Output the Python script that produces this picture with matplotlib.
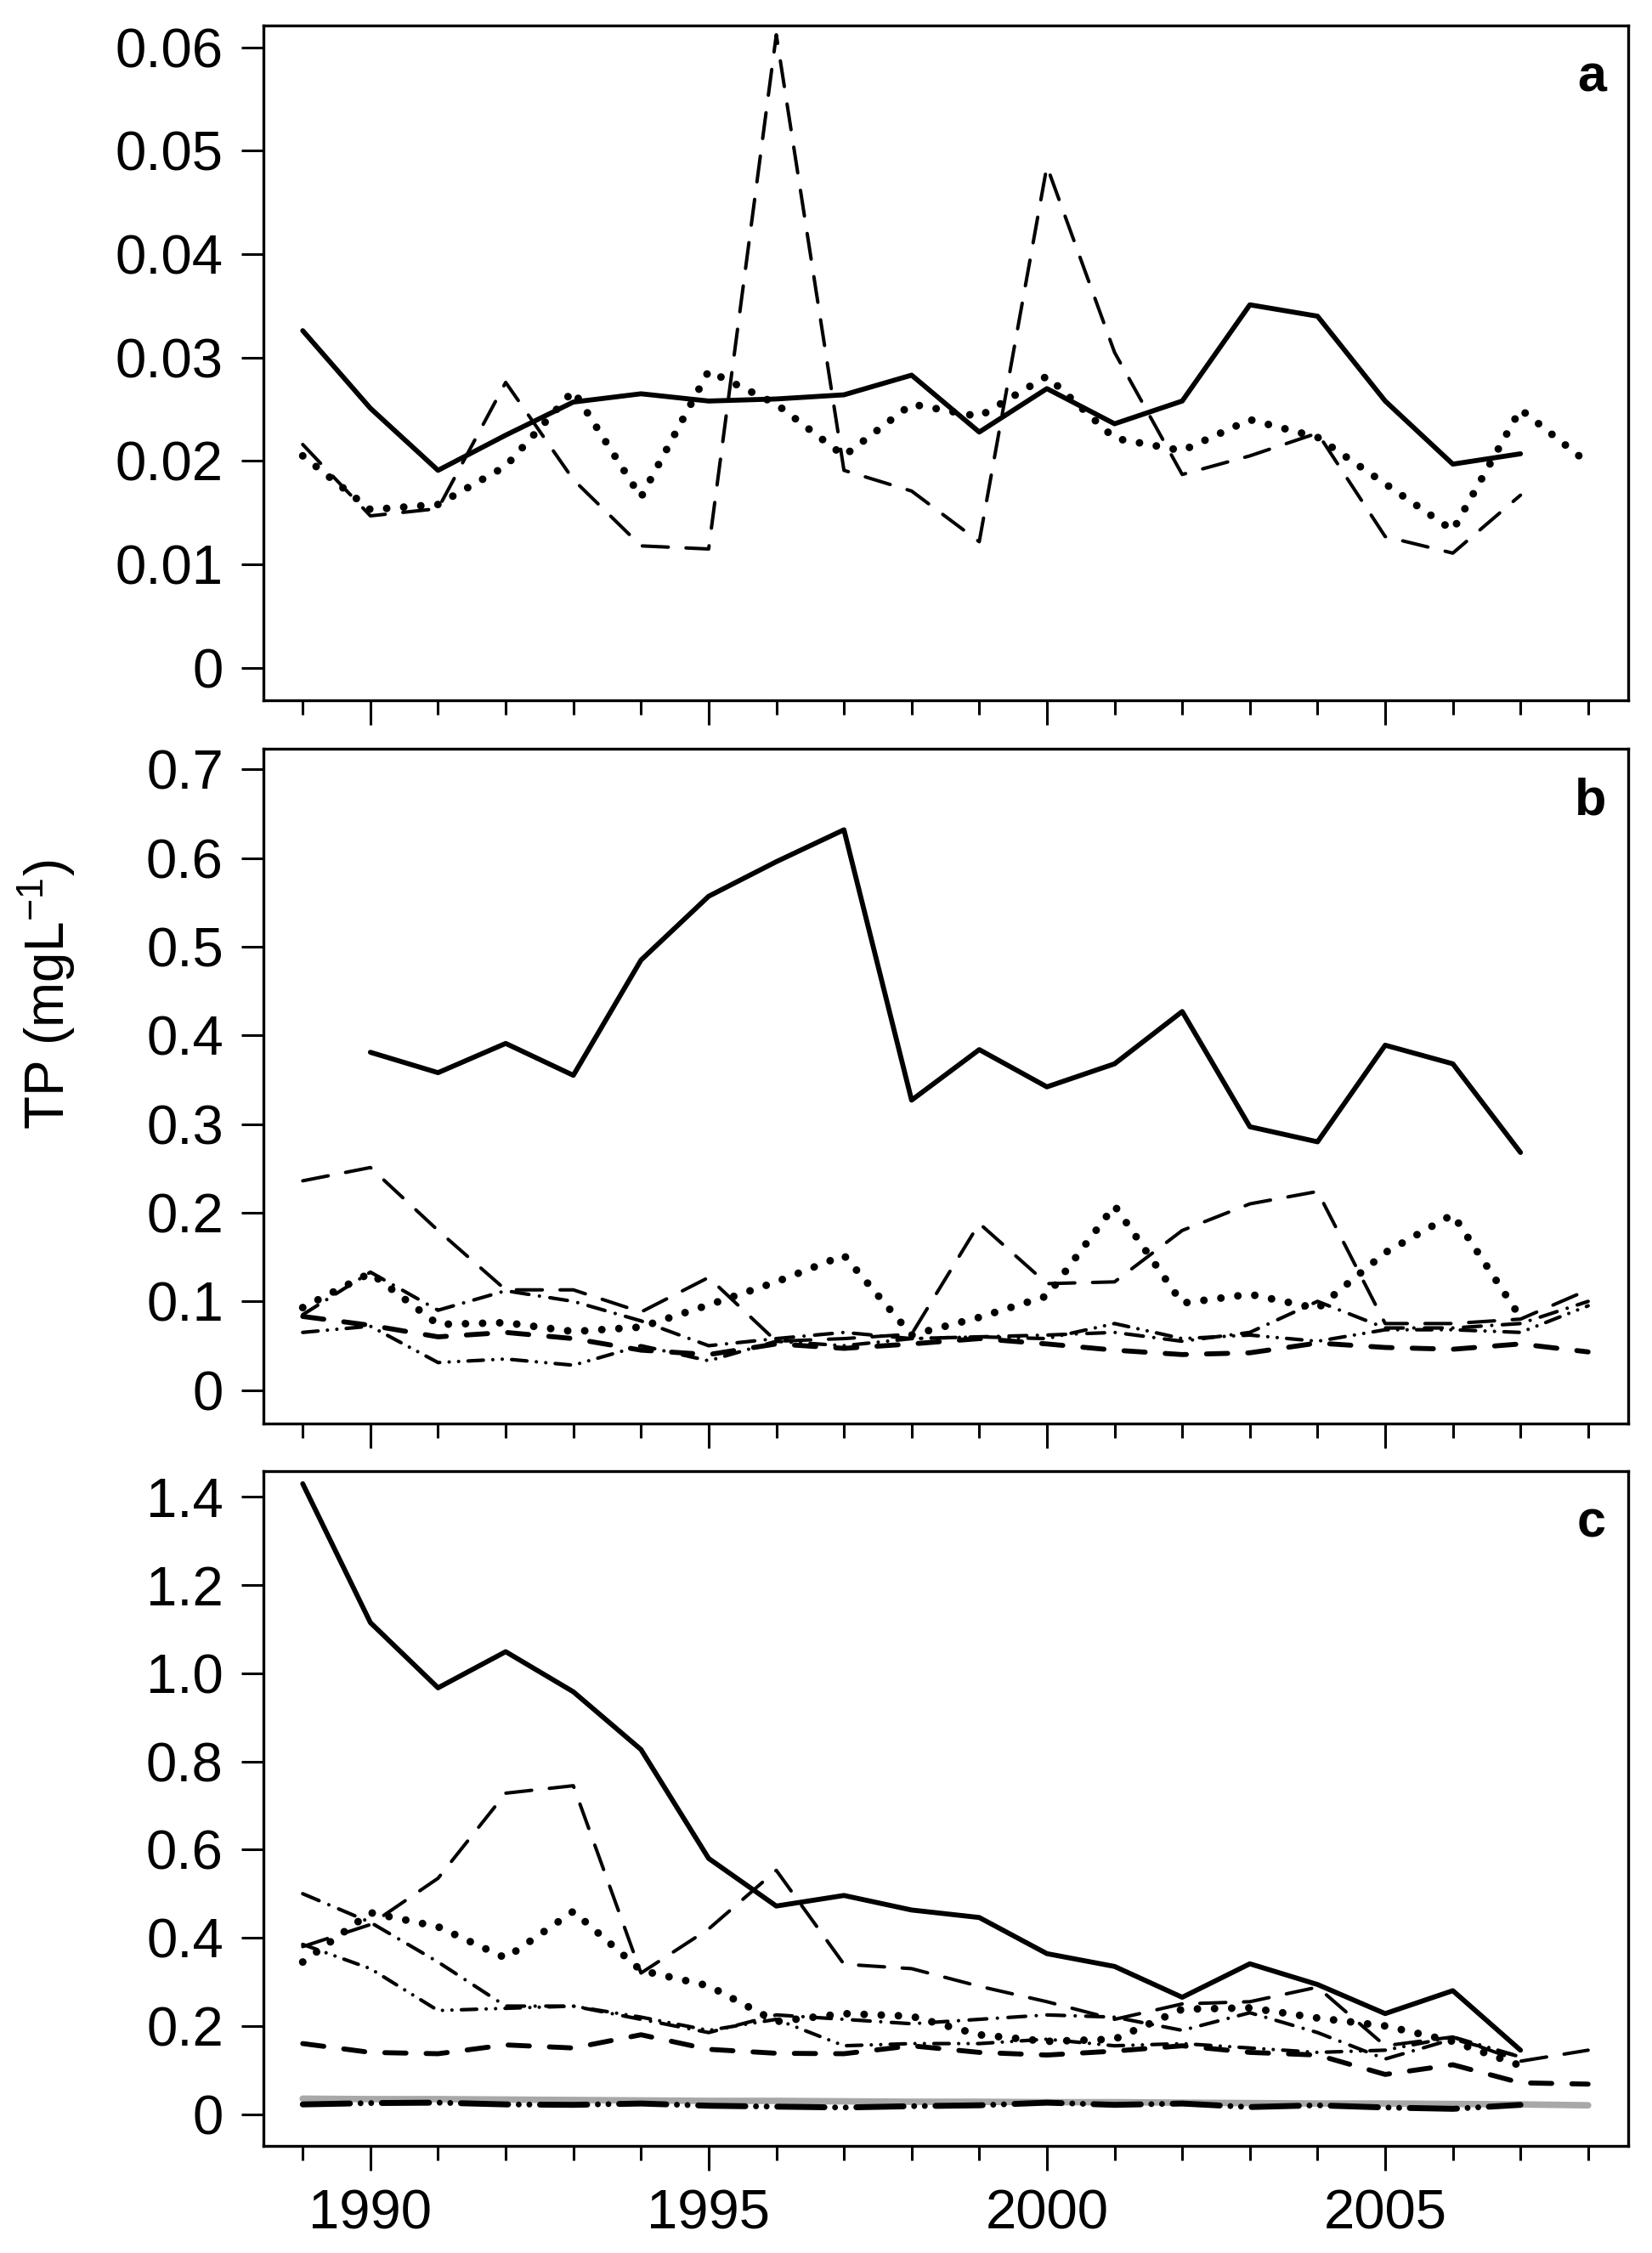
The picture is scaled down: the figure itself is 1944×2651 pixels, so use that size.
import numpy as np
import matplotlib
matplotlib.use("Agg")
import matplotlib.pyplot as plt
from matplotlib.ticker import FixedLocator, FixedFormatter, NullFormatter

plt.rcParams['font.family'] = ['Liberation Sans', 'DejaVu Sans']
plt.rcParams['lines.scale_dashes'] = False
plt.rcParams['mathtext.fontset'] = 'custom'
plt.rcParams['mathtext.rm'] = 'Liberation Sans'
plt.rcParams['mathtext.default'] = 'regular'

nan = np.nan
years = list(range(1989, 2009))

# ---------------- panel a ----------------
a_solid = [0.0326, 0.0251, 0.0191, 0.0225, 0.0257, 0.0265, 0.0258, 0.0260, 0.0264, 0.0283,
           0.0228, 0.0270, 0.0236, 0.0258, 0.0351, 0.0340, 0.0258, 0.0197, 0.0207, nan]
a_dash = [0.0216, 0.0147, 0.0154, 0.0276, 0.0182, 0.0118, 0.0115, 0.0612, 0.0191, 0.0171,
          0.0122, 0.0485, 0.0305, 0.0187, 0.0205, 0.0227, 0.0127, 0.0111, 0.0167, nan]
a_dot = [0.0205, 0.0153, 0.0158, 0.0195, 0.0268, 0.0165, 0.0287, 0.0255, 0.0205, 0.0255,
         0.0243, 0.0282, 0.0222, 0.0210, 0.0240, 0.0223, 0.0178, 0.0133, 0.0250, 0.0198]

# ---------------- panel b ----------------
b_solid = [nan, 0.381, 0.358, 0.391, 0.355, 0.485, 0.557, 0.596, 0.632, 0.327,
           0.384, 0.342, 0.368, 0.427, 0.297, 0.280, 0.389, 0.368, 0.268, nan]
b_long = [0.236, 0.251, 0.180, 0.113, 0.113, 0.088, 0.127, 0.055, 0.058, 0.063,
          0.188, 0.120, 0.122, 0.180, 0.210, 0.224, 0.075, 0.075, 0.080, 0.113]
b_dot = [0.093, 0.132, 0.074, 0.076, 0.066, 0.071, 0.096, 0.122, 0.152, 0.062,
         0.082, 0.106, 0.208, 0.098, 0.108, 0.092, 0.155, 0.198, 0.082, nan]
b_dashdot = [0.085, 0.133, 0.090, 0.112, 0.100, 0.078, 0.050, 0.058, 0.065, 0.058,
             0.060, 0.062, 0.065, 0.055, 0.065, 0.100, 0.070, 0.070, 0.075, 0.100]
b_ddd = [0.065, 0.072, 0.031, 0.035, 0.028, 0.050, 0.033, 0.055, 0.050, 0.058,
         0.060, 0.058, 0.075, 0.058, 0.062, 0.055, 0.068, 0.068, 0.065, 0.095]
b_med = [0.083, 0.073, 0.060, 0.065, 0.058, 0.045, 0.040, 0.052, 0.047, 0.052,
         0.058, 0.052, 0.045, 0.040, 0.042, 0.053, 0.048, 0.046, 0.052, 0.043]

# ---------------- panel c ----------------
c_solid = [1.430, 1.115, 0.967, 1.049, 0.958, 0.827, 0.580, 0.472, 0.496, 0.463,
           0.446, 0.364, 0.335, 0.265, 0.341, 0.294, 0.228, 0.280, 0.145, nan]
c_long = [0.380, 0.430, 0.535, 0.728, 0.745, 0.320, 0.420, 0.553, 0.340, 0.330,
          0.290, 0.255, 0.215, 0.250, 0.255, 0.288, 0.155, 0.175, 0.120, 0.145]
c_dot = [0.345, 0.457, 0.425, 0.354, 0.460, 0.326, 0.291, 0.210, 0.228, 0.222,
         0.180, 0.165, 0.170, 0.238, 0.241, 0.218, 0.200, 0.165, 0.110, nan]
c_dashdot = [0.500, 0.435, 0.345, 0.245, 0.245, 0.215, 0.185, 0.225, 0.215, 0.205,
             0.215, 0.225, 0.220, 0.190, 0.230, 0.185, 0.125, 0.170, 0.130, nan]
c_ddd = [0.385, 0.330, 0.235, 0.240, 0.245, 0.220, 0.190, 0.215, 0.155, 0.160,
         0.160, 0.170, 0.155, 0.160, 0.150, 0.140, 0.145, 0.175, 0.130, nan]
c_med = [0.160, 0.140, 0.137, 0.157, 0.150, 0.180, 0.147, 0.138, 0.137, 0.155,
         0.140, 0.134, 0.143, 0.155, 0.140, 0.134, 0.090, 0.112, 0.071, 0.068]
c_gray = [0.035, 0.034, 0.034, 0.033, 0.032, 0.031, 0.030, 0.030, 0.029, 0.028,
          0.028, 0.027, 0.027, 0.026, 0.025, 0.024, 0.024, 0.023, 0.022, 0.020]
c_bottom = [0.022, 0.025, 0.026, 0.022, 0.021, 0.024, 0.019, 0.017, 0.015, 0.018,
            0.020, 0.026, 0.021, 0.024, 0.016, 0.020, 0.015, 0.012, 0.021, nan]

# tick labels
a_yticks = [0, 0.01, 0.02, 0.03, 0.04, 0.05, 0.06]
a_ylabels = ['0', '0.01', '0.02', '0.03', '0.04', '0.05', '0.06']
b_yticks = [0, 0.1, 0.2, 0.3, 0.4, 0.5, 0.6, 0.7]
b_ylabels = ['0', '0.1', '0.2', '0.3', '0.4', '0.5', '0.6', '0.7']
c_yticks = [0, 0.2, 0.4, 0.6, 0.8, 1.0, 1.2, 1.4]
c_ylabels = ['0', '0.2', '0.4', '0.6', '0.8', '1.0', '1.2', '1.4']
x_major = [1990, 1995, 2000, 2005]
x_major_labels = ['1990', '1995', '2000', '2005']
panel_letters = ['a', 'b', 'c']
ylabel_text = r'TP (mgL$^{-1}$)'

STY = {
    'solid':   dict(ls='-', lw=4.2, color='black'),
    'long':    dict(ls=(0, (22, 15)), lw=2.9, color='black'),
    'dot':     dict(ls=(0, (0.01, 14.5)), lw=6.5, color='black'),
    'dashdot': dict(ls=(0, (15, 9, 0.01, 9)), lw=3.0, color='black'),
    'ddd':     dict(ls=(0, (13, 8, 0.01, 8, 0.01, 8)), lw=3.0, color='black'),
    'med':     dict(ls=(0, (18, 17)), lw=4.2, color='black'),
    'bottom':  dict(ls=(0, (40, 9, 0.01, 9, 0.01, 9)), lw=5.0, color='black'),
    'gray':    dict(ls='-', lw=5.5, color='#a8a8a8'),
}

panels = [
    dict(series=[('solid', a_solid), ('long', a_dash), ('dot', a_dot)],
         ylim=(-0.00312, 0.0621), yt=a_yticks, yl=a_ylabels, rect_bottom=0.6892),
    dict(series=[('med', b_med), ('ddd', b_ddd), ('dashdot', b_dashdot),
                 ('long', b_long), ('dot', b_dot), ('solid', b_solid)],
         ylim=(-0.0377, 0.7235), yt=b_yticks, yl=b_ylabels, rect_bottom=0.3682),
    dict(series=[('gray', c_gray), ('bottom', c_bottom), ('med', c_med), ('ddd', c_ddd),
                 ('dashdot', c_dashdot), ('long', c_long), ('dot', c_dot), ('solid', c_solid)],
         ylim=(-0.0723, 1.4584), yt=c_yticks, yl=c_ylabels, rect_bottom=0.0475),
]

fig = plt.figure(figsize=(19.44, 26.51), dpi=100)
fig.patch.set_facecolor('white')

for i, p in enumerate(panels):
    ax = fig.add_axes([0.1595, p['rect_bottom'], 0.826, 0.2995])
    for sty, vals in p['series']:
        s = STY[sty]
        line, = ax.plot(years, vals, linestyle=s['ls'], linewidth=s['lw'], color=s['color'])
        line.set_dash_capstyle('round')
        line.set_solid_capstyle('round')
        line.set_solid_joinstyle('round')
        line.set_dash_joinstyle('round')
    ax.set_xlim(1988.42, 2008.59)
    ax.set_ylim(*p['ylim'])
    ax.yaxis.set_major_locator(FixedLocator(p['yt']))
    ax.yaxis.set_major_formatter(FixedFormatter(p['yl']))
    ax.xaxis.set_major_locator(FixedLocator(x_major))
    ax.xaxis.set_minor_locator(FixedLocator([y for y in years if y not in x_major]))
    if i == 2:
        ax.xaxis.set_major_formatter(FixedFormatter(x_major_labels))
    else:
        ax.xaxis.set_major_formatter(NullFormatter())
    ax.xaxis.set_minor_formatter(NullFormatter())
    ax.tick_params(axis='y', which='major', direction='out', length=19, width=2.2,
                   labelsize=47, pad=15)
    ax.tick_params(axis='x', which='major', direction='out', length=21, width=2.2,
                   labelsize=47, pad=15)
    ax.tick_params(axis='x', which='minor', direction='out', length=12, width=2.2)
    for sp in ax.spines.values():
        sp.set_linewidth(2.4)
    ax.text(0.984, 0.902, panel_letters[i], transform=ax.transAxes, ha='right',
            va='baseline', fontsize=44, fontweight='bold')

fig.text(0.0283, 0.5587, ylabel_text, rotation=90, ha='center', va='center', fontsize=46)

fig.savefig('out.png', dpi=100, facecolor='white')
